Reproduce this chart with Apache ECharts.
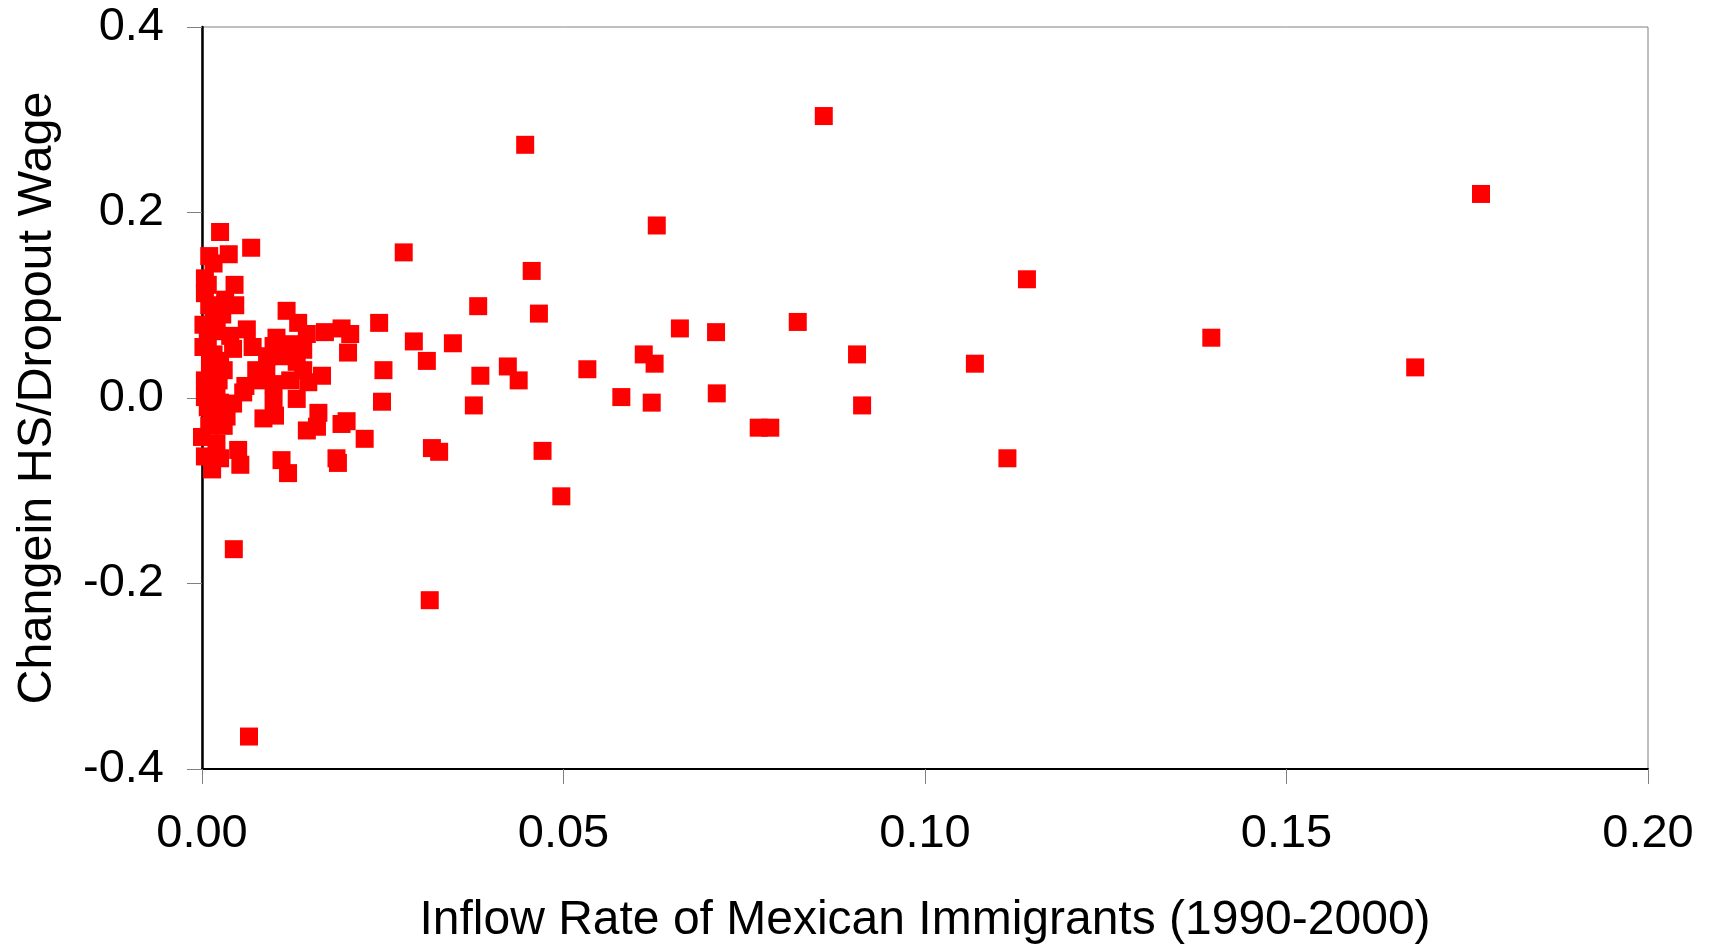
<!DOCTYPE html>
<html><head><meta charset="utf-8">
<script src="https://cdn.jsdelivr.net/npm/echarts@6/dist/echarts.min.js"></script>
<style>html,body{margin:0;padding:0;background:#fff}#c{width:1711px;height:950px}</style>
</head><body><div id="c"></div>
<script>
const xTitle = "Inflow Rate of Mexican Immigrants (1990-2000)";
const yTitle = "Changein HS/Dropout Wage";
const xTicks = [0.00, 0.05, 0.10, 0.15, 0.20];
const yTicks = [-0.4, -0.2, 0.0, 0.2, 0.4];
const inflow = [
 0.0860,0.0447,0.1769,0.0629,0.0279,0.0456,0.1141,0.0382,0.0466,0.0824,
 0.0245,0.0661,0.0711,0.1396,0.0347,0.0293,0.0906,0.0611,0.0311,0.1069,
 0.0626,0.0423,0.1678,0.0533,0.0251,0.0385,0.0438,0.0712,0.0580,0.0249,
 0.0622,0.0376,0.0913,0.0770,0.0786,0.0225,0.0318,0.0328,0.0471,0.1114,
 0.0497,0.0315,0.0044,0.0065,
 0.0025,0.0068,0.0037,0.0010,0.0016,0.0004,0.0045,0.0004,0.0032,0.0046,
 0.0117,0.0133,0.0016,0.0002,0.0062,0.0020,0.0103,0.0145,0.0170,0.0193,
 0.0205,0.0039,0.0002,0.0043,0.0070,0.0099,0.0122,0.0140,0.0202,0.0016,
 0.0011,0.0089,0.0131,0.0140,0.0166,0.0122,0.0147,0.0099,0.0078,0.0004,
 0.0023,0.0057,0.0004,0.0020,0.0043,0.0099,0.0131,0.0085,0.0101,0.0034,
 0.0014,0.0161,0.0145,0.0159,0.0193,0.0200,0.0000,0.0020,0.0050,0.0004,
 0.0053,0.0014,0.0110,0.0119,0.0186,0.0188,
 0.0010,0.0020,0.0008,0.0025,0.0012,0.0030,0.0010,0.0025,0.0008,0.0030,
 0.0010,0.0025,0.0060,0.0075,0.0110,0.0090,0.0008,0.0028
];
const wageChange = [
 0.304,0.273,0.220,0.186,0.157,0.137,0.128,0.099,0.091,0.082,
 0.081,0.075,0.071,0.065,0.059,0.061,0.047,0.047,0.040,0.037,
 0.037,0.034,0.033,0.031,0.030,0.024,0.019,0.005,0.001,-0.004,
 -0.005,-0.008,-0.008,-0.032,-0.032,-0.044,-0.054,-0.058,-0.057,-0.065,
 -0.106,-0.218,-0.163,-0.365,
 0.179,0.162,0.155,0.153,0.145,0.129,0.122,0.113,0.106,0.100,
 0.094,0.081,0.090,0.079,0.074,0.072,0.065,0.069,0.071,0.075,
 0.069,0.067,0.055,0.053,0.055,0.056,0.058,0.052,0.049,0.047,
 0.037,0.030,0.039,0.030,0.024,0.019,0.017,0.015,0.019,0.019,
 0.019,0.006,0.001,0.008,-0.006,-0.004,-0.001,-0.022,-0.019,-0.020,
 -0.022,-0.016,-0.035,-0.031,-0.028,-0.025,-0.042,-0.049,-0.056,-0.063,
 -0.072,-0.077,-0.067,-0.081,-0.065,-0.070,
 0.100,0.085,0.065,0.040,0.028,0.030,0.010,-0.005,-0.010,-0.030,
 -0.030,-0.065,0.013,0.030,0.045,0.045,0.122,0.090
];
const points = inflow.map((x, i) => [x, wageChange[i]]);
const font = 'Liberation Sans, Arial, sans-serif';
const chart = echarts.init(document.getElementById('c'));
chart.setOption({
  animation: false,
  backgroundColor: '#fff',
  grid: { left: 202, right: 63, top: 27, bottom: 175, show: true, borderColor: '#808080', borderWidth: 1 },
  xAxis: {
    type: 'value', min: xTicks[0], max: xTicks[xTicks.length-1], interval: 0.05,
    name: xTitle, nameLocation: 'middle', nameGap: 128,
    nameTextStyle: { fontFamily: font, fontSize: 48, color: '#000' },
    axisLine: { show: true, onZero: false, lineStyle: { color: '#000', width: 2 } },
    axisTick: { show: true, inside: false, length: 15, lineStyle: { color: '#808080', width: 1 } },
    axisLabel: { margin: 42, fontFamily: font, fontSize: 47, color: '#000', formatter: v => v.toFixed(2) },
    splitLine: { show: false }
  },
  yAxis: {
    type: 'value', min: yTicks[0], max: yTicks[yTicks.length-1], interval: 0.2,
    name: yTitle, nameLocation: 'middle', nameGap: 140, nameRotate: 90,
    nameTextStyle: { fontFamily: font, fontSize: 48.5, color: '#000' },
    axisLine: { show: true, onZero: false, lineStyle: { color: '#000', width: 2.5 } },
    axisTick: { show: true, inside: false, length: 15, lineStyle: { color: '#808080', width: 1 } },
    axisLabel: { margin: 38, fontFamily: font, fontSize: 47, color: '#000', formatter: v => (Math.abs(v) < 1e-9 ? 0 : v).toFixed(1) },
    splitLine: { show: false }
  },
  series: [{
    type: 'scatter', data: points, symbol: 'rect', symbolSize: 18,
    itemStyle: { color: '#ff0000', opacity: 1 }
  }]
});
</script></body></html>
